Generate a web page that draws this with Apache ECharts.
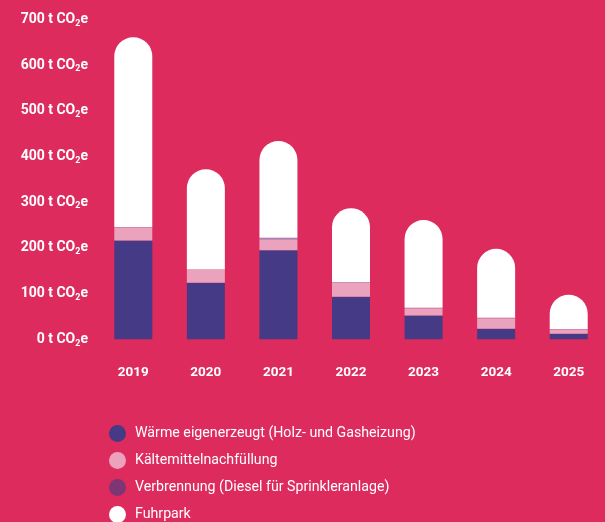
<!DOCTYPE html>
<html><head><meta charset="utf-8">
<script src="https://cdn.jsdelivr.net/npm/echarts@6/dist/echarts.min.js"></script>
<style>html,body{margin:0;padding:0;background:#dd2b5d}#c{width:605px;height:522px}</style>
</head><body><div id="c"></div>
<script>
const years = ['2019','2020','2021','2022','2023','2024','2025'];
const waerme = [216, 124, 195, 93, 52, 23, 12];
const kaelte = [29, 28, 24, 31, 16, 23, 10];
const verbrennung = [1, 1, 3, 1, 1, 1, 0.5];
const fuhrpark = [415, 219, 212, 162, 192, 151, 75];
const yTicks = [0, 100, 200, 300, 400, 500, 600, 700];
const names = ['Wärme eigenerzeugt (Holz- und Gasheizung)', 'Kältemittelnachfüllung', 'Verbrennung (Diesel für Sprinkleranlage)', 'Fuhrpark'];

const chart = echarts.init(document.getElementById('c'));
const mk = (name, data, color, radius) => ({
  name, type: 'bar', stack: 'total', data, barWidth: 38,
  itemStyle: { color, borderRadius: radius || 0 },
  emphasis: { disabled: true }
});
chart.setOption({
  backgroundColor: '#dd2b5d',
  animation: false,
  textStyle: { fontFamily: 'Roboto' },
  grid: { left: 97, right: 0, top: 19.4, bottom: 182.7 },
  legend: {
    orient: 'vertical', left: 109, top: 425, height: 110, icon: 'circle',
    itemWidth: 17, itemHeight: 17, itemGap: 10, padding: 0,
    textStyle: { color: '#fff', fontSize: 14.2, fontFamily: 'Roboto', padding: [0, 0, 0, 4] },
    data: [
      { name: names[0], itemStyle: { color: '#453a85' } },
      { name: names[1], itemStyle: { color: '#eba3bd' } },
      { name: names[2], itemStyle: { color: '#7e3573' } },
      { name: names[3], itemStyle: { color: '#ffffff' } }
    ]
  },
  xAxis: {
    type: 'category', data: years,
    axisLine: { show: false }, axisTick: { show: false },
    axisLabel: { color: '#fff', fontWeight: 'bold', fontSize: 13.5, margin: 26 }
  },
  yAxis: {
    type: 'value', min: yTicks[0], max: yTicks[yTicks.length - 1], interval: 100,
    splitLine: { show: false }, axisLine: { show: false }, axisTick: { show: false },
    axisLabel: {
      margin: 9,
      formatter: v => `{a|${v} t CO}{s|2}{a|e}`,
      rich: {
        a: { color: '#fff', fontWeight: 'bold', fontSize: 14, fontFamily: 'Roboto' },
        s: { color: '#fff', fontWeight: 'bold', fontSize: 9, fontFamily: 'Roboto', verticalAlign: 'bottom', padding: [8, 0, 0, 0] }
      }
    }
  },
  series: [
    mk(names[0], waerme, '#453a85'),
    mk(names[1], kaelte, '#eba3bd'),
    mk(names[2], verbrennung, '#9c86bf'),
    mk(names[3], fuhrpark, '#ffffff', [19, 19, 0, 0])
  ]
});
</script></body></html>
